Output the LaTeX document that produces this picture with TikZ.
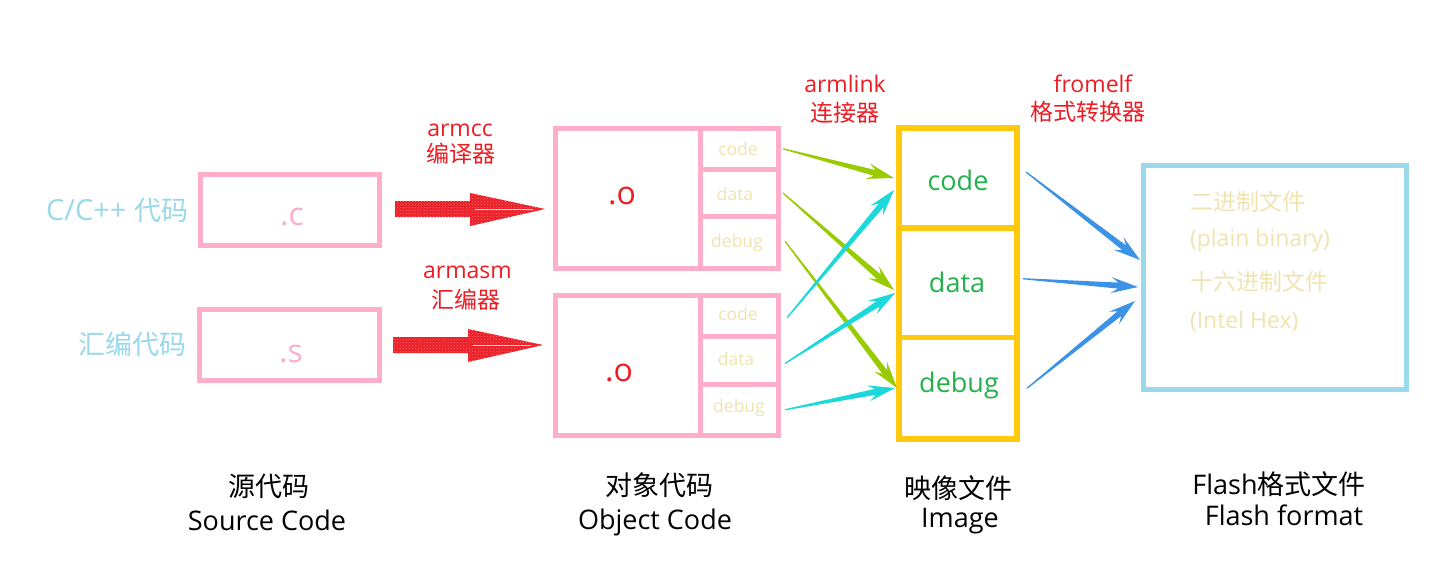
\documentclass[tikz,border=0pt]{standalone}
\usepackage{fontspec}
\setmainfont{Open Sans}
\newfontfamily\cjk{Noto Sans CJK SC}
\usetikzlibrary{calc,patterns}
\definecolor{pinkc}{HTML}{FFAEC9}
\definecolor{turq}{HTML}{99D9EA}
\definecolor{goldc}{HTML}{FFC90E}
\definecolor{creamc}{HTML}{EFE4B0}
\definecolor{greenc}{HTML}{22B14C}
\definecolor{redc}{HTML}{ED1C24}
\definecolor{limec}{HTML}{99CC00}
\definecolor{cyanc}{HTML}{1BD8DB}
\definecolor{bluec}{HTML}{3C93E6}
\definecolor{speck}{HTML}{F87A80}
\newcommand\fs[1]{\fontsize{#1}{#1}\selectfont}
\newcommand\taparrow[3]{%
  \coordinate (tpA) at ($(#2)!20pt!(#1)$);
  \coordinate (tpB) at ($(#2)!27pt!(#1)$);
  \fill[#3] ($(#1)!0.6pt!90:(#2)$) -- ($(tpA)!3pt!90:(#2)$) -- ($(tpB)!8pt!90:(#2)$) -- (#2)
    -- ($(tpB)!8pt!-90:(#2)$) -- ($(tpA)!3pt!-90:(#2)$) -- ($(#1)!0.6pt!-90:(#2)$) -- cycle;}
\newcommand\blockarrow[2]{% #1 start (left middle), #2 tip
  \fill[redc] ($(#1)+(0,-8)$) -- ($(#1)+(75,-8)$) -- ($(#1)+(75,-16)$) -- (#2) -- ($(#1)+(75,17)$) -- ($(#1)+(75,8)$) -- ($(#1)+(0,8)$) -- cycle;
  \fill[pattern=crosshatch dots, pattern color=speck] ($(#1)+(0,-8)$) -- ($(#1)+(75,-8)$) -- ($(#1)+(75,-16)$) -- (#2) -- ($(#1)+(75,17)$) -- ($(#1)+(75,8)$) -- ($(#1)+(0,8)$) -- cycle;
  \draw[white, line width=1pt, opacity=0.8] ($(#1)+(80,0)$) -- ($(#2)+(-12,0)$);}
\tikzset{
  pinkbox/.style={draw=pinkc, line width=5pt},
  cellbox/.style={draw=pinkc, line width=5pt},
  goldbox/.style={draw=goldc, line width=5.5pt},
  turqbox/.style={draw=turq, line width=5pt},
  celltxt/.style={text=creamc, font=\fs{17.5}, anchor=base},
  imgtxt/.style={text=greenc, font=\fs{27}, anchor=base},
  redlat/.style={text=redc, font=\fs{23}, anchor=base},
  redcjk/.style={text=redc, font=\cjk\fs{23}},
  bluelab/.style={text=turq, font=\fs{29}},
  blacklat/.style={text=black, font=\fs{27}, anchor=base},
  blackcjk/.style={text=black, font=\cjk\fs{27}},
  flashtxt/.style={text=creamc, font=\fs{23}, anchor=west},
}
\begin{document}
\begin{tikzpicture}[x=1pt,y=-1pt, every node/.append style={inner sep=0pt, outer sep=0pt}]
\useasboundingbox[fill=white] (0,0) rectangle (1430,587);

% source boxes
\node[pinkbox, minimum width=179pt, minimum height=71pt] (srcc) at (290,210) {};
\node[pinkbox, minimum width=180pt, minimum height=71.5pt] (srcs) at (289,345) {};
\node[text=pinkc, font=\fs{32}, anchor=base] (ctxt) at (292,225) {.c};
\node[text=pinkc, font=\fs{32}, anchor=base] (stxt) at (291,362) {.s};
\node[bluelab, anchor=east] (clab) at (188,210) {C/C++ {\cjk\fs{27}代码}};
\node[bluelab, anchor=east, font=\cjk\fs{27}] (slab) at (186,344.5) {汇编代码};

% object boxes
\draw[pinkbox] (555.5,128) rectangle (778,268);
\node[cellbox, minimum width=78pt, minimum height=41.5pt] (o1code) at (739,148.75) {};
\node[cellbox, minimum width=78pt, minimum height=47pt] (o1data) at (739,193) {};
\node[cellbox, minimum width=78pt, minimum height=51.5pt] (o1debug) at (739,242.25) {};
\draw[pinkbox] (555.5,295) rectangle (778,435);
\node[cellbox, minimum width=78pt, minimum height=41.5pt] (o2code) at (739,315.75) {};
\node[cellbox, minimum width=78pt, minimum height=48pt] (o2data) at (739,360.5) {};
\node[cellbox, minimum width=78pt, minimum height=50.5pt] (o2debug) at (739,409.75) {};
\node[celltxt] at (738,155) {code};
\node[celltxt] at (735,200) {data};
\node[celltxt] at (737,247) {debug};
\node[celltxt] at (738,320) {code};
\node[celltxt] at (736,365) {data};
\node[celltxt] at (739,412) {debug};
\node[text=redc, font=\fs{32}, anchor=base] (o1) at (622,204) {.o};
\node[text=redc, font=\fs{32}, anchor=base] (o2) at (619,381) {.o};

% image box
\node[goldbox, minimum width=118pt, minimum height=100pt] (imcode) at (958,178) {};
\node[goldbox, minimum width=118pt, minimum height=109.5pt] (imdata) at (958,282.75) {};
\node[goldbox, minimum width=118pt, minimum height=101.5pt] (imdebug) at (958,388.25) {};
\node[imgtxt] at (958,190) {code};
\node[imgtxt] at (957,292) {data};
\node[imgtxt] at (959,392) {debug};

% flash box
\node[turqbox, minimum width=263pt, minimum height=224pt] (flash) at (1274.5,277) {};
\node[flashtxt, font=\cjk\fs{23}] at (1190,202) {二进制文件};
\node[flashtxt] at (1190,241) {(plain binary)};
\node[flashtxt, font=\cjk\fs{23}] at (1190,282) {十六进制文件};
\node[flashtxt] at (1190,322) {(Intel Hex)};

% tool labels
\node[redlat] at (460,136) {armcc};
\node[redcjk] at (460.5,154) {编译器};
\node[redlat] at (467.5,278) {armasm};
\node[redcjk] at (466,300) {汇编器};
\node[redlat] at (845,92) {armlink};
\node[redcjk] at (845,112.5) {连接器};
\node[redlat] at (1093,92) {fromelf};
\node[redcjk] at (1088,112) {格式转换器};

% bottom labels
\node[blackcjk] at (269,486) {源代码};
\node[blacklat] at (267,530) {Source Code};
\node[blackcjk] at (659,485) {对象代码};
\node[blacklat] at (655,529) {Object Code};
\node[blackcjk] at (958,488) {映像文件};
\node[blacklat] at (960,527) {Image};
\node[blacklat] at (1279,494) {Flash{\cjk 格式文件}};
\node[blacklat] at (1284,525) {Flash format};

% red block arrows
\coordinate (r1s) at (395,209);
\coordinate (r1e) at (545,209);
\coordinate (r2s) at (393,345);
\coordinate (r2e) at (543,345);
\blockarrow{r1s}{r1e}
\blockarrow{r2s}{r2e}

% linker arrows
\coordinate (g1s) at ([xshift=5pt]o1code.east);
\coordinate (g1e) at (894,178);
\coordinate (g2s) at ([xshift=5pt]o1data.east);
\coordinate (g2e) at (894,290);
\coordinate (g3s) at ([xshift=7pt,yshift=1pt]o1debug.east);
\coordinate (g3e) at (897,388);
\coordinate (c1s) at ([xshift=9pt,yshift=-2pt]o2code.east);
\coordinate (c1e) at (894,190);
\coordinate (c2s) at ([xshift=7pt,yshift=-3pt]o2data.east);
\coordinate (c2e) at (895,293);
\coordinate (c3s) at ([xshift=7pt]o2debug.east);
\coordinate (c3e) at (895,388);
\taparrow{g1s}{g1e}{limec}
\taparrow{g2s}{g2e}{limec}
\taparrow{g3s}{g3e}{limec}
\taparrow{c1s}{c1e}{cyanc}
\taparrow{c2s}{c2e}{cyanc}
\taparrow{c3s}{c3e}{cyanc}

% fromelf arrows
\coordinate (b1s) at ([xshift=9pt,yshift=6pt]imcode.east);
\coordinate (b1e) at (1140,260);
\coordinate (b2s) at ([xshift=6pt,yshift=4pt]imdata.east);
\coordinate (b2e) at (1138,287);
\coordinate (b3s) at ([xshift=10pt]imdebug.east);
\coordinate (b3e) at (1135,301);
\taparrow{b1s}{b1e}{bluec}
\taparrow{b2s}{b2e}{bluec}
\taparrow{b3s}{b3e}{bluec}
\end{tikzpicture}
\end{document}
